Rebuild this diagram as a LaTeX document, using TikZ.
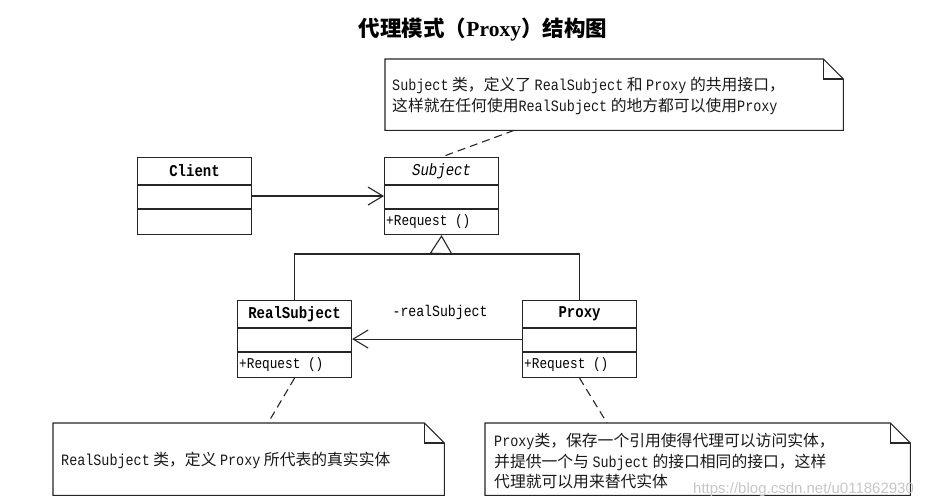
\documentclass[tikz,border=0pt]{standalone}
\usepackage{fontspec}
\setmainfont{Noto Sans CJK SC}
\newfontfamily\lat[FakeStretch=0.85]{Liberation Mono}
\newfontfamily\ttl{Liberation Serif}
\newfontfamily\wmfont{Liberation Sans}
\usetikzlibrary{arrows.meta}
\newcommand\latw[1]{{\lat #1}}
\tikzset{
  umlline/.style={line width=1.1pt, draw=black!85},
  classbox/.style={umlline, rectangle, minimum width=114pt, minimum height=77pt, anchor=north west, inner sep=0pt},
  classtitle/.style={inner sep=0pt, font=\lat\fontsize{16.5}{16.5}\selectfont\bfseries},
  methodtext/.style={inner sep=0pt, anchor=west, font=\lat\fontsize{15}{15}\selectfont},
  notebox/.style={rectangle, anchor=north west, inner sep=0pt},
  notetext/.style={inner sep=0pt, anchor=west, align=left, font=\fontsize{15.8}{20.5}\selectfont, text=black!90},
  assoc/.style={umlline, -{Straight Barb[length=15pt,width=18pt,line width=1.1pt]}},
  gen/.style={umlline, -{Triangle[open,length=19pt,width=23pt,line width=1.1pt]}},
  noteline/.style={umlline, dash pattern=on 8pt off 5pt}
}
\newcommand\umlclass[5]{%
  \node[classbox] (#1) at (#2,#3) {};
  \draw[umlline] ([yshift=-28pt]#1.north west) -- ([yshift=-28pt]#1.north east);
  \draw[umlline] ([yshift=-52pt]#1.north west) -- ([yshift=-52pt]#1.north east);
  \node[classtitle] (#1-t) at ([yshift=-14pt]#1.north) {#4};
  \node[methodtext] (#1-m) at ([xshift=2pt,yshift=-64.5pt]#1.north west) {#5};
}
\newcommand\umlnote[5]{%
  \node[notebox, minimum width=#4pt, minimum height=#5pt] (#1) at (#2,#3) {};
  \draw[umlline] (#1.north west) -- ([xshift=-20pt]#1.north east) -- ([yshift=-20pt]#1.north east) -- (#1.south east) -- (#1.south west) -- cycle;
  \draw[umlline] ([xshift=-20pt]#1.north east) -- ([xshift=-20pt,yshift=-20pt]#1.north east) -- ([yshift=-20pt]#1.north east);
}
\begin{document}
\begin{tikzpicture}[x=1pt,y=-1pt]
\useasboundingbox (0,0) rectangle (936,502);
\fill[white] (0,0) rectangle (936,502);

% title
\node (title) at (483,30) {\fontsize{21.5}{21.5}\selectfont\bfseries 代理模式（{\ttl Proxy}）结构图};

% classes
\umlclass{client}{137}{157}{Client}{}
\umlclass{subject}{384}{157}{{\itshape\mdseries Subject}}{+Request ()}
\umlclass{realsubject}{237}{300}{RealSubject}{+Request ()}
\umlclass{proxy}{522}{300}{Proxy}{+Request ()}

% notes
\umlnote{n1}{385}{59}{458}{71}
\node[notetext] (n1t) at (392,96) {\latw{Subject} 类，定义了 \latw{RealSubject} 和 \latw{Proxy} 的共用接口，\\这样就在任何使用\latw{RealSubject} 的地方都可以使用\latw{Proxy}};
\umlnote{n2}{53}{423}{391}{72}
\node[notetext] (n2t) at (61,460) {\latw{RealSubject} 类，定义 \latw{Proxy} 所代表的真实实体};
\umlnote{n3}{485}{423}{425}{72}
\node[notetext] (n3t) at (494,461) {\latw{Proxy}类，保存一个引用使得代理可以访问实体，\\并提供一个与 \latw{Subject} 的接口相同的接口，这样\\代理就可以用来替代实体};

% watermark
\node[inner sep=0pt, anchor=west, text=black!22] (wm) at (693,490) {\wmfont\fontsize{15}{15}\selectfont https://blog.csdn.net/u011862930};

% connectors
\draw[assoc] (client.east) -- (subject.west);
\coordinate (genj) at (441,254);
\draw[umlline] (realsubject.north) |- (genj) -| (proxy.north);
\draw[gen] (genj) -- (subject.south);
\draw[assoc] (proxy.west) -- node[midway, yshift=27pt, xshift=3pt, inner sep=0pt, font=\lat\fontsize{15.5}{15.5}\selectfont] (rslabel) {-realSubject} (realsubject.east);

\draw[noteline] ([xshift=129pt]n1.south west) -- (subject.north);
\draw[noteline] (realsubject.south) -- ([xshift=215pt]n2.north west);
\draw[noteline] (proxy.south) -- ([xshift=122pt]n3.north west);
\end{tikzpicture}
\end{document}
